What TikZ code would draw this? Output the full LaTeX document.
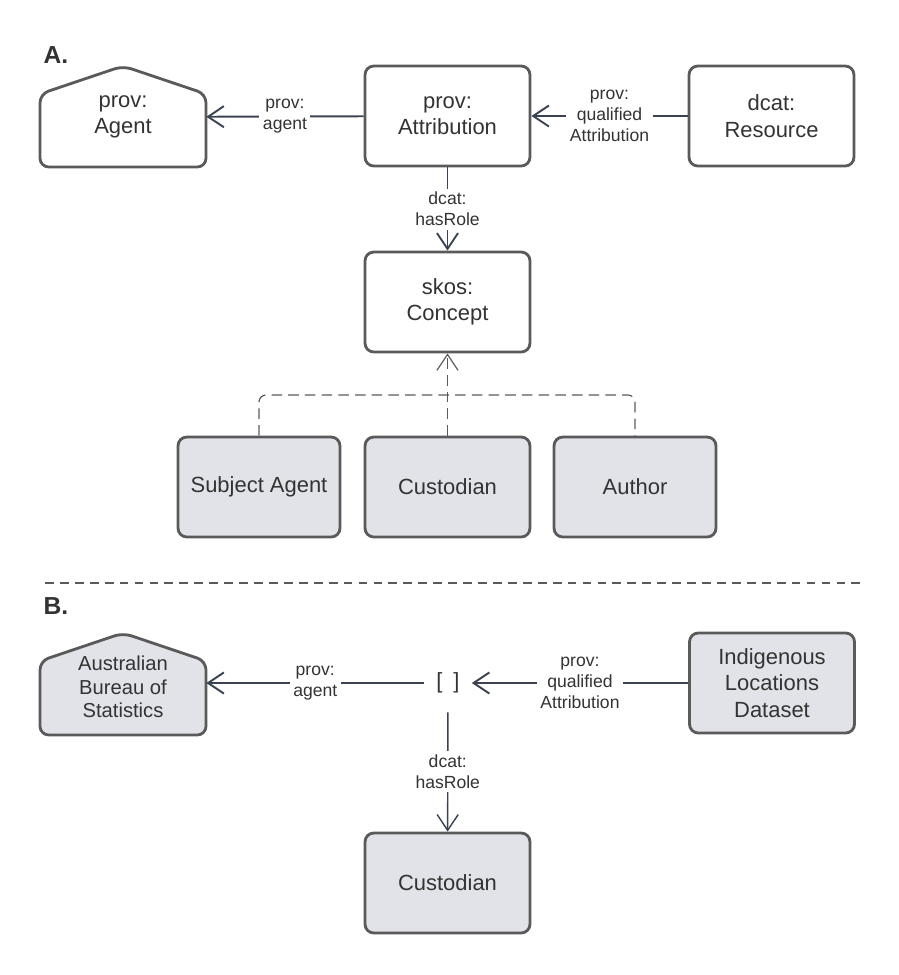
\documentclass[tikz,border=0pt]{standalone}
\usepackage{fontspec}
\setmainfont{Liberation Sans}
\usetikzlibrary{arrows.meta}
\definecolor{edgegray}{HTML}{5A5A5A}
\definecolor{linegray}{HTML}{3B4252}
\definecolor{boxfill}{HTML}{E1E3E8}
\definecolor{txtgray}{HTML}{333333}
\tikzset{>={Straight Barb[length=9pt,width=12pt]}}

\begin{document}
\begin{tikzpicture}[x=0.02cm, y=-0.02cm,
    every node/.style={font=\fontsize{12.5}{15}\selectfont, text=txtgray},
    cls/.style={draw=edgegray, line width=1.6pt, rounded corners=5pt, fill=white,
        minimum width=3.3cm, minimum height=2cm, align=center},
    inst/.style={cls, fill=boxfill},
    house/.style={draw=edgegray, line width=1.6pt, rounded corners=5pt},
    rel/.style={font=\fontsize{10}{12}\selectfont, fill=white, inner sep=2pt, align=center},
    link/.style={draw=linegray, line width=1.1pt, ->},
    sub/.style={draw=edgegray, line width=0.7pt, dash pattern=on 6pt off 3.5pt, rounded corners=4pt}]

    \useasboundingbox (0,0) rectangle (899,975);

    % Part A
    \node[font=\bfseries\fontsize{14}{16}\selectfont] (labA) at (56,55) {A.};

    % Agent (house shape)
    \draw[house, fill=white] (40,167) -- (40,94) -- (123,66) -- (206,94) -- (206,167) -- cycle;
    \node[minimum width=3.32cm, minimum height=2cm, align=center] (agent) at (123,117) {prov:\\Agent};

    \node[cls] (attr) at (447.5,116) {prov:\\Attribution};
    \node[cls] (res) at (771.5,116) {dcat:\\Resource};
    \node[cls] (concept) at (447.5,302) {skos:\\Concept};

    % Roles
    \node[inst, minimum width=3.24cm] (subj) at (259,487) {Subject Agent};
    \node[inst] (cust) at (447.5,487) {Custodian};
    \node[inst, minimum width=3.24cm] (auth) at (635,487) {Author};

    \draw[link] (attr) -- node[rel] {prov:\\agent} (agent);
    \draw[link] (res) -- node[rel] {prov:\\qualified\\Attribution} (attr);
    \draw[link] (attr) -- node[rel] {dcat:\\hasRole} (concept);

    % Dashed links to skos:Concept
    \coordinate (hub) at (447.5,395);
    \draw[sub, ->] (cust.north) -- (concept.south);
    \draw[sub] (subj.north) |- (hub) -| (auth.north);

    % Separator
    \draw[edgegray, line width=0.7pt, dash pattern=on 5pt off 3.5pt] (45,583) -- (860,583);

    % Part B
    \node[font=\bfseries\fontsize{14}{16}\selectfont] (labB) at (56,606) {B.};

    % Australian Bureau of Statistics (house shape)
    \draw[house, fill=boxfill] (40,735) -- (40,661) -- (123,633) -- (206,661) -- (206,735) -- cycle;
    \node[minimum width=3.32cm, minimum height=2cm, align=center,
        font=\fontsize{11.5}{13.5}\selectfont] (abs) at (123,687) {Australian\\Bureau of\\Statistics};

    \node[minimum width=0.94cm, minimum height=1.16cm] (blank) at (448,683) {[\hspace{0.5em}]};
    \node[inst] (data) at (772,683) {Indigenous\\Locations\\Dataset};
    \node[inst] (custB) at (447.5,883) {Custodian};

    \draw[link] (blank) -- node[rel] {prov:\\agent} (abs.east |- blank);
    \draw[link] (data) -- node[rel] {prov:\\qualified\\Attribution} (blank);
    \draw[link, line width=0.8pt] (blank) -- node[rel] {dcat:\\hasRole} (custB);

\end{tikzpicture}
\end{document}
